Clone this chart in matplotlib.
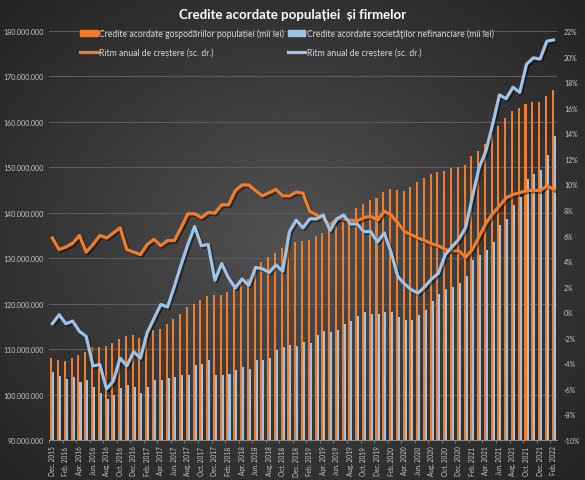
import numpy as np
import matplotlib.pyplot as plt
import matplotlib.patheffects as pe
from matplotlib.colors import LinearSegmentedColormap
from matplotlib.patches import Patch
from matplotlib.lines import Line2D

# ==============================
# DATE
# ==============================

# credite in milioane de mii lei (axa stanga)
credite_pop = [
    108.0, 107.6, 107.3, 108.0, 108.6, 109.4, 110.5, 110.5, 110.7, 111.4,
    112.2, 112.8, 113.0, 112.4, 113.1, 114.1, 114.4, 115.6, 116.6, 117.7,
    119.3, 119.9, 120.7, 121.6, 121.9, 121.9, 122.5, 123.4, 124.5, 125.4,
    127.8, 129.2, 130.2, 131.2, 132.2, 132.8, 133.5, 133.7, 133.9, 135.0,
    135.6, 136.3, 137.2, 137.9, 138.6, 141.0, 141.9, 142.9, 143.3, 144.5,
    145.2, 145.1, 144.9, 145.6, 146.7, 147.7, 148.5, 148.9, 149.3, 149.9,
    150.0, 150.6, 152.4, 153.5, 155.1, 157.1, 159.2, 160.8, 162.3, 163.1,
    163.9, 164.4, 164.4, 165.6, 167.0]

credite_firme = [
    104.9, 104.1, 103.4, 103.8, 102.8, 103.1, 101.7, 100.3, 99.0, 99.8,
    101.4, 102.2, 101.7, 100.3, 101.7, 103.3, 103.3, 103.6, 103.9, 104.2,
    104.3, 106.5, 106.7, 107.5, 104.2, 104.2, 104.5, 105.4, 106.1, 105.6,
    107.5, 107.6, 108.0, 109.8, 110.5, 110.9, 110.6, 111.6, 111.3, 113.1,
    113.9, 113.7, 114.3, 115.5, 116.1, 117.2, 118.1, 117.7, 117.8, 118.1,
    118.1, 117.1, 116.4, 116.4, 117.4, 118.7, 120.6, 122.1, 123.2, 123.7,
    124.6, 126.1, 129.6, 130.8, 131.8, 133.5, 137.3, 138.6, 141.8, 143.4,
    147.4, 148.5, 149.5, 152.8, 157.0]

# ritm anual de crestere, % (axa dreapta)
ritm_pop = [
    5.8, 4.9, 5.1, 5.4, 6.0, 4.7, 5.3, 6.0, 5.8, 6.2,
    6.6, 4.9, 4.7, 4.5, 5.3, 5.7, 5.2, 5.6, 5.6, 6.6,
    7.7, 7.7, 7.4, 7.8, 7.75, 8.4, 8.4, 9.5, 9.95, 9.95,
    9.5, 9.1, 9.35, 9.6, 9.1, 9.1, 9.4, 9.3, 7.9, 7.6,
    7.3, 6.8, 7.3, 7.3, 7.2, 7.15, 7.4, 7.5, 7.2, 7.9,
    7.6, 7.0, 6.3, 6.05, 5.8, 5.6, 5.35, 5.2, 4.9, 4.8,
    4.8, 4.3, 4.9, 5.9, 6.95, 7.7, 8.3, 8.95, 9.2, 9.35,
    9.5, 9.55, 9.5, 9.9, 9.6]

ritm_firme = [
    -0.9, -0.2, -0.9, -0.7, -1.5, -1.9, -4.2, -4.1, -6.0, -5.4,
    -3.6, -4.2, -3.1, -3.6, -1.6, -0.5, 0.6, 0.4, 2.0, 3.7,
    5.3, 6.7, 5.2, 5.3, 2.5, 3.8, 2.7, 1.9, 2.6, 2.1,
    3.5, 3.4, 3.1, 3.7, 3.2, 6.3, 7.2, 6.6, 7.3, 7.3,
    7.6, 6.4, 7.3, 7.6, 6.9, 6.9, 6.3, 6.3, 5.5, 6.2,
    4.7, 2.8, 2.2, 1.75, 1.5, 2.0, 2.6, 3.05, 4.5, 5.1,
    5.7, 6.6, 9.0, 11.3, 12.6, 14.7, 17.0, 16.7, 17.6, 17.2,
    19.4, 19.9, 19.8, 21.2, 21.3]

luni = ["Jan.", "Feb.", "Mar.", "Apr.", "May", "Jun.",
        "Jul.", "Aug.", "Sep.", "Oct.", "Nov.", "Dec."]

# etichete lunare incepand cu Dec. 2015
etichete = []
for k in range(len(credite_pop)):
    m = (11 + k) % 12
    an = 2015 + (11 + k) // 12
    etichete.append(f"{luni[m]} {an}")

# ==============================
# STIL
# ==============================

portocaliu = "#F07D2B"
albastru = "#9DC3E6"
text_gri = "#C8C8C8"
font = ["Lato", "DejaVu Sans"]

fig = plt.figure(figsize=(5.85, 4.81), dpi=100)

# fundal cu gradient radial
bg = fig.add_axes([0, 0, 1, 1], zorder=-10)
yy, xx = np.mgrid[-1:1:300j, -1:1:300j]
r = np.sqrt(xx ** 2 + yy ** 2) / np.sqrt(2)
cmap_bg = LinearSegmentedColormap.from_list("bg", ["#525252", "#3a3a3a", "#232323"])
bg.imshow(r, cmap=cmap_bg, extent=[0, 1, 0, 1], aspect="auto")
bg.axis("off")

ax = fig.add_axes([49 / 585, 1 - 441 / 481, 508 / 585, 409 / 481])
ax.set_facecolor("none")
ax2 = ax.twinx()

x = np.arange(len(credite_pop))

# ==============================
# BARE
# ==============================

ax.bar(x - 0.15, credite_pop, width=0.3, color=portocaliu, zorder=2)
ax.bar(x + 0.15, credite_firme, width=0.3, color=albastru, zorder=2)

ax.set_xlim(-0.5, len(x) - 0.5)
ax.set_ylim(90, 180)
ax.set_yticks(np.arange(90, 181, 10))
ax.set_yticklabels([f"{int(v * 1e6):,}".replace(",", ".") for v in np.arange(90, 181, 10)])
ax.yaxis.grid(True, color="#5c5c5c", lw=0.8)
ax.set_axisbelow(True)

# ==============================
# LINII (axa dreapta)
# ==============================

umbra = [pe.SimpleLineShadow(offset=(1.2, -1.2), alpha=0.45), pe.Normal()]
ax2.plot(x, ritm_pop, color=portocaliu, lw=2.3, solid_joinstyle="round", path_effects=umbra)
ax2.plot(x, ritm_firme, color=albastru, lw=2.3, solid_joinstyle="round", path_effects=umbra)
ax2.set_ylim(-10, 22)
ax2.set_yticks(np.arange(-10, 23, 2))
ax2.set_yticklabels([f"{v}%" for v in np.arange(-10, 23, 2)])

# ==============================
# AXE
# ==============================

ax.set_xticks(x[::2])
ax.set_xticklabels(etichete[::2], rotation=90, fontsize=4.7, color=text_gri, family=font)
ax.set_xticks(np.arange(-0.5, len(x), 2), minor=True)
ax.tick_params(axis="x", which="major", length=0, pad=4)
ax.tick_params(axis="x", which="minor", length=2.5, color="#8a8a8a", width=0.6)
ax.tick_params(axis="y", length=0, pad=4, labelsize=5, labelcolor=text_gri)
ax2.tick_params(axis="y", length=0, pad=5, labelsize=5, labelcolor=text_gri)
for lab in ax.get_yticklabels() + ax2.get_yticklabels():
    lab.set_family(font)

for s in ["top", "left", "right"]:
    ax.spines[s].set_visible(False)
    ax2.spines[s].set_visible(False)
ax.spines["bottom"].set_color("#8a8a8a")
ax.spines["bottom"].set_linewidth(0.8)
ax2.spines["bottom"].set_visible(False)

# ==============================
# TITLU SI LEGENDA
# ==============================

fig.text(0.5, 1 - 15 / 481, "Credite acordate populației  și firmelor",
         ha="center", va="center", color="white", fontsize=9.5,
         fontweight="bold", family=font)

handles = [
    Patch(color=portocaliu),
    Line2D([0], [0], color=portocaliu, lw=2.3),
    Patch(color=albastru),
    Line2D([0], [0], color=albastru, lw=2.3),
]
labels = [
    "Credite acordate gospodăriilor populației (mii lei)",
    "Ritm anual de creștere (sc. dr.)",
    "Credite acordate societăţilor nefinanciare (mii lei)",
    "Ritm anual de creștere (sc. dr.)",
]
fig.legend(handles, labels, ncol=2, loc="upper left",
           bbox_to_anchor=(76 / 585, 1 - 25 / 481), frameon=False,
           prop={"family": font, "size": 6.2}, labelcolor="#D9D9D9",
           handlelength=2.0, handleheight=0.6, handletextpad=0.2,
           columnspacing=0.4, labelspacing=1.1, borderpad=0)

fig.savefig("out.png", dpi=100)
